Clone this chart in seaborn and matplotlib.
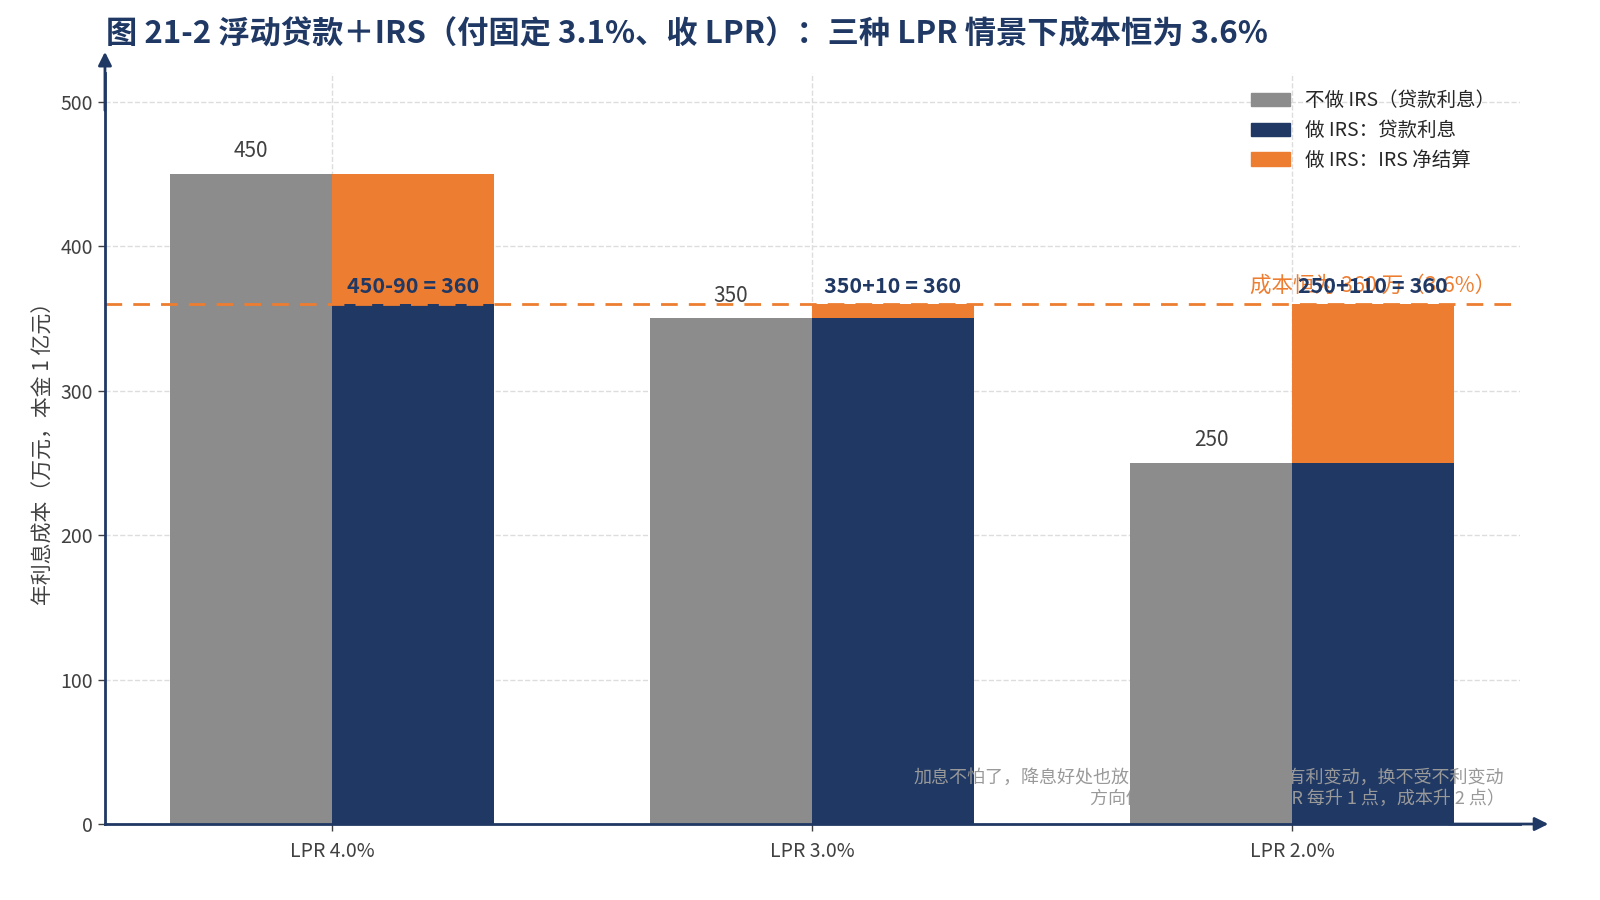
import matplotlib
matplotlib.use('Agg')
import matplotlib.pyplot as plt
import pandas as pd
import seaborn as sns
from matplotlib.patches import Patch

# data (万元 / 年, 本金 1 亿元)
scenarios = ['LPR 4.0%', 'LPR 3.0%', 'LPR 2.0%']
no_irs = [450, 350, 250]          # 不做 IRS：贷款利息
irs_loan = [360, 350, 250]        # 做 IRS：贷款利息（柱体蓝色部分）
irs_net = [90, 10, 110]           # 做 IRS：IRS 净结算（橙色部分）
net_labels = ['450-90 = 360', '350+10 = 360', '250+110 = 360']
fixed_cost = 360

navy = '#1f3864'
grey = '#8c8c8c'
orange = '#ed7d31'
txt = '#404040'

sns.set_style('white')
plt.rcParams['font.family'] = ['Noto Sans CJK SC', 'DejaVu Sans']
plt.rcParams['axes.unicode_minus'] = False

lab_no = '不做 IRS（贷款利息）'
lab_loan = '做 IRS：贷款利息'
lab_net = '做 IRS：IRS 净结算'

df = pd.DataFrame({
    'scenario': scenarios * 2,
    'value': no_irs + irs_loan,
    'kind': [lab_no] * 3 + [lab_loan] * 3,
})

fig = plt.figure(figsize=(16, 9), dpi=100)
ax = fig.add_axes([0.0656, 0.0844, 0.8844, 0.8346])

bw = 0.3375
sns.barplot(data=df, x='scenario', y='value', hue='kind', order=scenarios,
            hue_order=[lab_no, lab_loan], palette=[grey, navy],
            width=2 * bw, gap=0, dodge=True, linewidth=0, saturation=1,
            legend=False, ax=ax, zorder=2)
# grey bars sit above the footnote, navy bars below it
for p in ax.containers[0]:
    p.set_zorder(3)

xs = range(len(scenarios))
ax.bar([i + bw / 2 for i in xs], irs_net, bottom=irs_loan, width=bw,
       color=orange, linewidth=0, zorder=2)

ax.set_xlim(-0.473, 2.475)
ax.set_ylim(0, 520)
ax.set_yticks([0, 100, 200, 300, 400, 500])
ax.set_xlabel('')
ax.set_ylabel('年利息成本（万元，本金 1 亿元）', fontsize=15, color=txt)
ax.grid(True, linestyle='--', color='#dddddd', linewidth=1, zorder=0)
ax.set_axisbelow(True)
ax.tick_params(axis='both', labelsize=14, labelcolor=txt, color=txt,
               length=5, width=1, left=True, bottom=True)
ax.tick_params(axis='x', pad=7)

for s in ['top', 'right']:
    ax.spines[s].set_visible(False)
for s in ['left', 'bottom']:
    ax.spines[s].set_color(navy)
    ax.spines[s].set_linewidth(2)
    ax.spines[s].set_zorder(5)

arrow = dict(arrowstyle='-|>', color=navy, lw=2, mutation_scale=20,
             shrinkA=0, shrinkB=0)
ax.annotate('', xy=(0, 1.028), xytext=(0, 0.95), xycoords='axes fraction',
            arrowprops=arrow, annotation_clip=False)
ax.annotate('', xy=(1.02, 0), xytext=(0.95, 0), xycoords='axes fraction',
            arrowprops=arrow, annotation_clip=False)

# reference line
ax.axhline(fixed_cost, color=orange, linestyle='--', linewidth=2,
           dashes=(6, 4), zorder=3.5)
ax.text(0.983, fixed_cost + 5, '成本恒为 360 万（3.6%）', color=orange,
        fontsize=15.5, ha='right', va='bottom',
        transform=ax.get_yaxis_transform(), zorder=4)

# value labels
for i in xs:
    ax.text(i - bw / 2, no_irs[i] + 8, str(no_irs[i]), ha='center',
            va='bottom', fontsize=15, color=txt, zorder=4)
    ax.text(i + bw / 2, fixed_cost + 5, net_labels[i], ha='center',
            va='bottom', fontsize=15.5, color=navy, fontweight='bold', zorder=4)

# footnote (partly hidden behind the grey bars, as in the original)
ax.text(0.989, 0.022,
        '加息不怕了，降息好处也放弃了——本质是放弃有利变动，换不受不利变动\n'
        '方向做反则风险翻倍（LPR 每升 1 点，成本升 2 点）',
        transform=ax.transAxes, ha='right', va='bottom', multialignment='right',
        fontsize=13, color='#999999', zorder=2.5, linespacing=1.2)

handles = [Patch(color=grey), Patch(color=navy), Patch(color=orange)]
ax.legend(handles, [lab_no, lab_loan, lab_net], loc='upper right',
          bbox_to_anchor=(0.995, 1.0), frameon=False, fontsize=14,
          handlelength=2.0, handleheight=0.7, labelspacing=0.45,
          handletextpad=0.8)

fig.text(0.066, 0.962,
         '图 21-2 浮动贷款＋IRS（付固定 3.1%、收 LPR）：三种 LPR 情景下成本恒为 3.6%',
         fontsize=22.5, fontweight='bold', color=navy, ha='left', va='center')

fig.savefig('out.png', dpi=100)
